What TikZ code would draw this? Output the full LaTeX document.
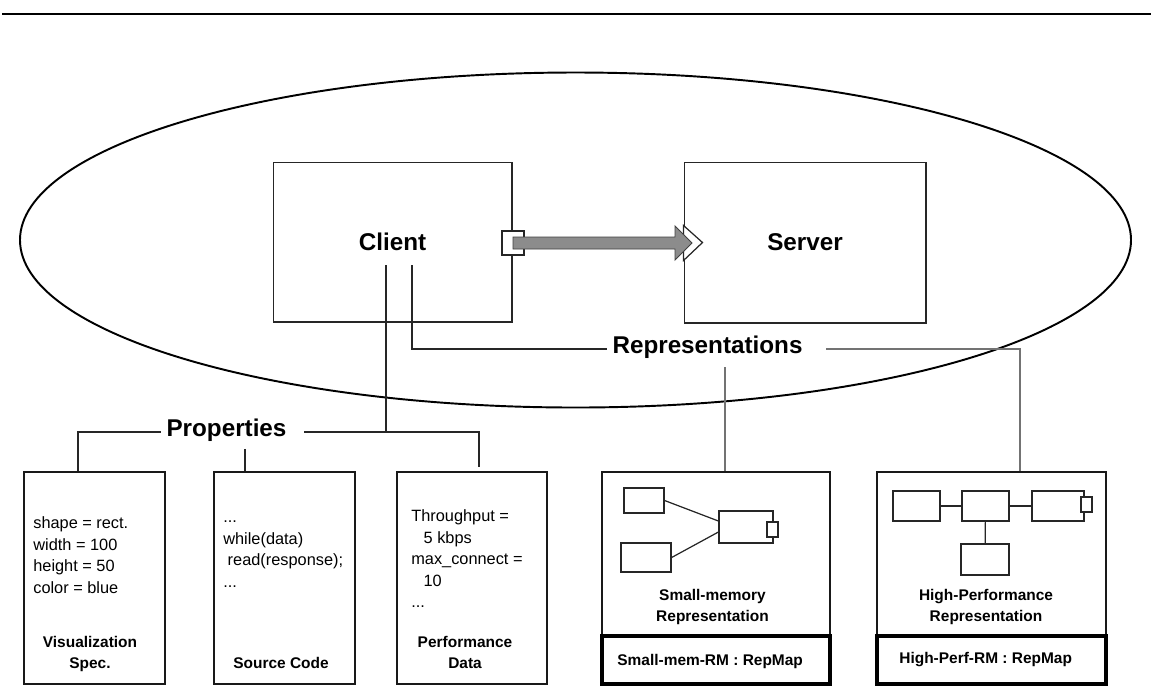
\documentclass[tikz,border=0pt]{standalone}
\usepackage{fontspec}
\setmainfont{Liberation Sans}
\usetikzlibrary{calc}

\begin{document}
\begin{tikzpicture}[x=0.02cm,y=-0.02cm,
  bigfont/.style={font=\fontsize{13.8}{16}\selectfont\bfseries},
  comp/.style={draw=black!85, line width=0.6pt, inner sep=0pt},
  propbox/.style={draw=black!90, line width=1.3pt, minimum width=2.82cm, minimum height=4.24cm},
  repbox/.style={draw=black!90, line width=1.1pt, minimum width=4.56cm, minimum height=3.28cm},
  rmbox/.style={draw=black, line width=2pt, minimum width=4.56cm, minimum height=0.96cm},
  mini/.style={draw=black!85, line width=0.7pt, inner sep=0pt},
  txt/.style={font=\fontsize{9.3}{12.3}\selectfont, align=left, inner sep=0pt},
  ttl/.style={font=\fontsize{8.8}{12}\selectfont\bfseries, align=center, inner sep=0pt},
  link/.style={draw=black!85, line width=0.8pt},
  glink/.style={draw=black!55, line width=0.6pt}]
\useasboundingbox (0,0) rectangle (1151,698);
\draw[line width=1.3pt] (2,14) -- (1151,14);
\draw[line width=1.1pt] (575.5,240) ellipse [x radius=555.5, y radius=167.5];

\node[comp, bigfont, minimum width=4.78cm, minimum height=3.2cm] (client) at (392.5,242) {Client};
\node[comp, bigfont, minimum width=4.84cm, minimum height=3.22cm] (server) at (805,242.5) {Server};
\node[comp, fill=white, minimum width=0.44cm, minimum height=0.48cm] (port) at (513,243) {};
\filldraw[fill=white, draw=black!85, line width=0.7pt] ($(server.west)+(0,-17)$) -- ($(server.west)+(19,0)$) -- ($(server.west)+(0,18)$) -- cycle;
\filldraw[fill=black!45, draw=black!75, line width=0.5pt] (port.center) ++(0,-6) -- ++(162,0) -- ++(0,-11) -- ++(17,17) -- ++(-17,17) -- ++(0,-11) -- ++(-162,0) -- cycle;

\coordinate (c1) at ($(client.center)+(-6.5,23)$);
\coordinate (c2) at ($(client.center)+(19.5,23)$);
\node[bigfont, anchor=mid, inner sep=3pt] (props) at (226.5,432) {Properties};
\node[bigfont, anchor=mid, inner sep=3pt] (reps) at (707.5,349) {Representations};

\node[propbox] (vis) at (94.5,578) {};
\node[propbox] (src) at (284.5,578) {};
\node[propbox, minimum width=3cm] (perf) at (472,578) {};
\node[txt, anchor=north west] (vistxt) at (33,513) {\strut shape = rect.\\width = 100\\height = 50\\color = blue};
\node[txt, anchor=north west] (srctxt) at (223,507) {\strut ...\\while(data)\\\hspace*{2.5pt}read(response);\\...};
\node[txt, anchor=north west] (perftxt) at (411,506) {\strut Throughput =\\\hspace*{7pt}5 kbps\\max\_connect =\\\hspace*{7pt}10\\...};
\node[ttl, anchor=south] (vistitle) at (90,675) {Visualization\\Spec.\strut};
\node[ttl, anchor=south] (srctitle) at (281,675) {Source Code\strut};
\node[ttl, anchor=south] (perftitle) at (465,675) {Performance\\Data\strut};

\node[repbox] (smem) at (716,554) {};
\node[rmbox] (smrm) at (716,660) {};
\node[repbox, minimum width=4.58cm] (hp) at (991.5,554) {};
\node[rmbox, minimum width=4.58cm] (hprm) at (991.5,660) {};
\node[ttl, anchor=south] (smtitle) at (712.5,628) {Small-memory\\Representation\strut};
\node[ttl, anchor=south] (hptitle) at (986,628) {High-Performance\\Representation\strut};
\node[ttl, anchor=base west] (smrmtxt) at (617,665) {Small-mem-RM : RepMap};
\node[ttl, anchor=base west] (hprmtxt) at (899,663) {High-Perf-RM : RepMap};

\node[mini, minimum width=0.8cm, minimum height=0.5cm] (sa) at (644,500.5) {};
\node[mini, minimum width=1cm, minimum height=0.58cm] (sb) at (646,557.5) {};
\node[mini, minimum width=1.08cm, minimum height=0.64cm] (sc) at (746,527) {};
\node[mini, fill=white, minimum width=0.22cm, minimum height=0.3cm] (sport) at (772.5,529.5) {};
\draw[mini] (sa.east) -- ($(sc.west)+(0,-6)$);
\draw[mini] (sb.east) -- ($(sc.west)+(0,5)$);

\node[mini, minimum width=0.94cm, minimum height=0.6cm] (ha) at (916.5,506) {};
\node[mini, minimum width=0.94cm, minimum height=0.6cm] (hb) at (985.5,506) {};
\node[mini, minimum width=1.04cm, minimum height=0.6cm] (hc) at (1058,506) {};
\node[mini, fill=white, minimum width=0.22cm, minimum height=0.3cm] (hport) at (1086.5,504.5) {};
\node[mini, minimum width=0.96cm, minimum height=0.62cm] (hd) at (985,559.5) {};
\draw[mini] (ha) -- (hb);
\draw[mini] (hb) -- (hc);
\draw[mini] (hb) -- (hd);

\draw[link] (c1) -- (c1 |- props.mid);
\draw[link] (c2) |- (reps.mid west);
\draw[link] (props.mid west) -| ($(vis.north)+(-16.5,0)$);
\draw[link] ($(props.mid east)+(12,0)$) -| ($(perf.north)+(7,-4)$);
\draw[link] ($(src.north)+(-39.5,-22)$) -- ($(src.north)+(-39.5,0)$);
\draw[glink] ($(reps.mid east)+(18,0)$) -| ($(hp.north)+(28.5,0)$);
\draw[glink] ($(smem.north)+(9,-104)$) -- ($(smem.north)+(9,0)$);
\end{tikzpicture}
\end{document}
